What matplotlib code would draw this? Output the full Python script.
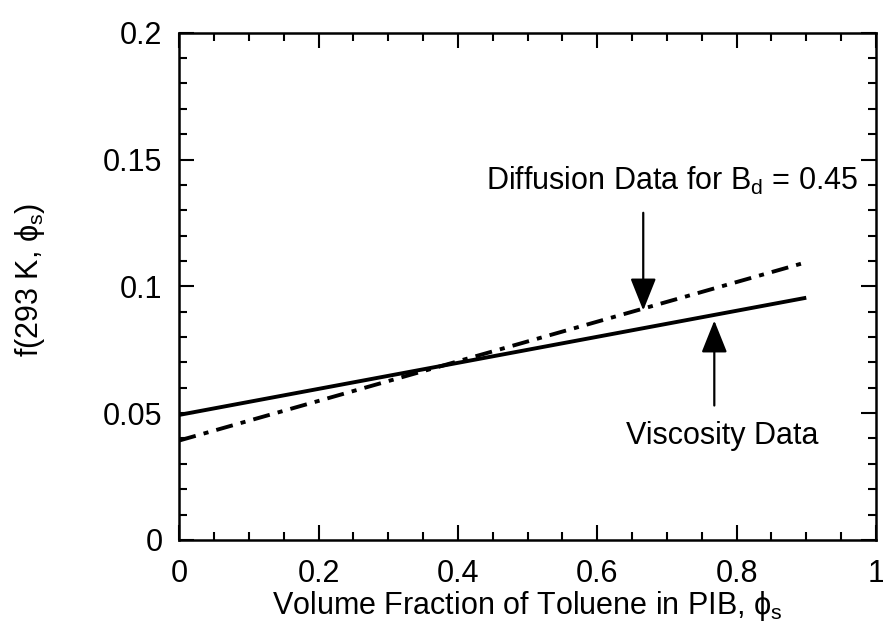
import matplotlib
matplotlib.use("Agg")
import matplotlib.pyplot as plt
from matplotlib.ticker import MultipleLocator

plt.rcParams['font.family'] = ['Liberation Sans', 'DejaVu Sans']
plt.rcParams['mathtext.fontset'] = 'custom'
plt.rcParams['mathtext.rm'] = 'Liberation Sans'
plt.rcParams['mathtext.it'] = 'Liberation Sans'

# volume fraction of toluene and f(293 K, phi_s) for the two fits
phi = [0.0, 0.9]
viscosity = [0.0493, 0.0955]
diffusion = [0.0392, 0.1095]

xticks = [0, 0.2, 0.4, 0.6, 0.8, 1]
xticklabels = ['0', '0.2', '0.4', '0.6', '0.8', '1']
yticks = [0, 0.05, 0.1, 0.15, 0.2]
yticklabels = ['0', '0.05', '0.1', '0.15', '0.2']

fs = 22

fig = plt.figure(figsize=(8.83, 6.42), dpi=100)
ax = fig.add_axes([0.203, 0.159, 0.789, 0.790])

ax.plot(phi, viscosity, color='black', lw=2.8, solid_capstyle='butt')
ax.plot(phi, diffusion, color='black', lw=2.8, dashes=(4.4, 2.1, 1.3, 2.1))

ax.set_xlim(0, 1)
ax.set_ylim(0, 0.2)
ax.xaxis.set_minor_locator(MultipleLocator(0.05))
ax.yaxis.set_minor_locator(MultipleLocator(0.01))
ax.set_xticks(xticks)
ax.set_xticklabels(xticklabels)
ax.set_yticks(yticks)
ax.set_yticklabels(yticklabels)

ax.tick_params(which='both', direction='in', top=True, right=True, width=1.5)
ax.tick_params(which='major', length=11, labelsize=fs)
ax.tick_params(axis='x', which='major', pad=14)
ax.tick_params(axis='y', which='major', pad=12)
ax.tick_params(which='minor', length=6)
for s in ax.spines.values():
    s.set_linewidth(1.8)

ax.set_xlabel(r'Volume Fraction of Toluene in PIB, $\phi_s$', fontsize=fs, va='center')
ax.xaxis.set_label_coords(0.5, -0.13)
ax.set_ylabel(r'f(293 K, $\phi_s$)', fontsize=fs, va='center')
ax.yaxis.set_label_coords(-0.214, 0.513)

arrow = dict(arrowstyle='-|>,head_length=1.0,head_width=0.4', color='black', lw=1.6,
             shrinkA=0, shrinkB=0, mutation_scale=20)
ax.annotate('', xy=(0.768, 0.0865), xytext=(0.768, 0.053), arrowprops=arrow)
ax.text(0.7795, 0.038, 'Viscosity Data', fontsize=fs, ha='center', va='baseline')

ax.annotate('', xy=(0.666, 0.0905), xytext=(0.666, 0.129), arrowprops=arrow)
ax.text(0.975, 0.138, r'Diffusion Data for B$_d$ = 0.45', fontsize=fs, ha='right', va='baseline')

fig.savefig('out.png', dpi=100)
